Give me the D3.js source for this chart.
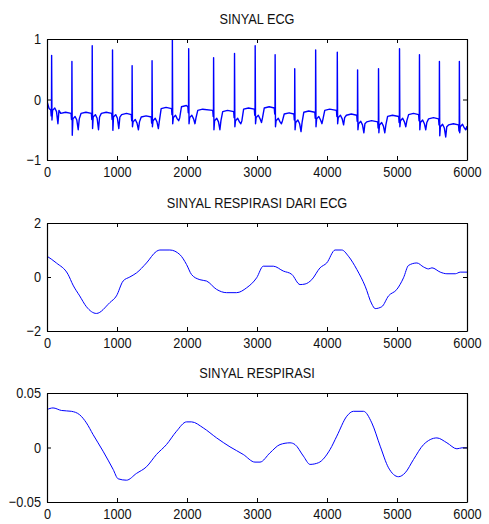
<!DOCTYPE html>
<html>
<head>
<meta charset="utf-8">
<script src="https://cdn.jsdelivr.net/npm/d3@7"></script>
<style>
  body { margin: 0; background: #fff; }
  text { font-family: "Liberation Sans", Arial, sans-serif; fill: #111; }
</style>
</head>
<body>
<script>
/***********************************************************************************/
// Data

var titles = ['SINYAL ECG', 'SINYAL RESPIRASI DARI ECG', 'SINYAL RESPIRASI'];
var xTicks = [0, 1000, 2000, 3000, 4000, 5000, 6000];
var yTicks1 = [-1, 0, 1];
var yTicks2 = [-2, 0, 2];
var yTicks3 = [-0.05, 0, 0.05];

// ECG: one entry per beat
var rPos  = [66, 356, 646, 936, 1216, 1501, 1791, 2024, 2380, 2679, 2974, 3259, 3539, 3838, 4147, 4437, 4736, 5036, 5321, 5606, 5891];
var rAmp  = [0.73, 0.63, 0.89, 0.82, 0.56, 0.64, 1.0, 0.84, 0.69, 0.76, 0.89, 0.74, 0.51, 0.82, 0.78, 0.49, 0.51, 0.84, 0.74, 0.63, 0.63];
var sMin  = [-0.34, -0.59, -0.48, -0.51, -0.45, -0.45, -0.4, -0.4, -0.5, -0.45, -0.4, -0.45, -0.5, -0.45, -0.4, -0.5, -0.55, -0.45, -0.5, -0.6, -0.55];
var stLvl = [-0.18, -0.32, -0.29, -0.29, -0.37, -0.35, -0.3, -0.3, -0.35, -0.35, -0.3, -0.35, -0.38, -0.32, -0.3, -0.4, -0.42, -0.35, -0.38, -0.45, -0.45];
var tMin  = [-0.4, -0.5, -0.5, -0.48, -0.5, -0.48, -0.35, -0.4, -0.5, -0.4, -0.38, -0.4, -0.53, -0.4, -0.42, -0.55, -0.55, -0.45, -0.5, -0.62, -0.5];
var plat  = [-0.23, -0.23, -0.23, -0.25, -0.29, -0.15, -0.12, -0.18, -0.2, -0.16, -0.14, -0.24, -0.21, -0.18, -0.26, -0.37, -0.28, -0.25, -0.32, -0.42, -0.48];
var ecgStart = [[0, -0.03], [30, -0.15], [50, -0.17]];
var ecgEnd = [6000, -0.5];

// respiration derived from ECG
var edrX = [0, 134, 300, 372, 467, 563, 706, 897, 992, 1087, 1183, 1278, 1421, 1564, 1612, 1755, 1898, 1994, 2065, 2184, 2280, 2423, 2566, 2709, 2852, 2995, 3090, 3233, 3376, 3496, 3615, 3687, 3782, 3901, 3996, 4116, 4211, 4306, 4426, 4545, 4640, 4688, 4783, 4879, 4998, 5093, 5165, 5284, 5380, 5451, 5499, 5618, 5713, 5833, 5904, 6000];
var edrY = [0.77, 0.52, 0.1, -0.3, -0.7, -1.1, -1.35, -0.95, -0.7, -0.15, 0.0, 0.15, 0.52, 0.95, 1.0, 1.0, 0.83, 0.46, 0.09, -0.1, -0.15, -0.46, -0.58, -0.58, -0.4, -0.03, 0.4, 0.4, 0.22, 0.1, -0.28, -0.26, -0.1, 0.34, 0.52, 1.0, 1.0, 0.77, 0.28, -0.34, -1.0, -1.17, -1.1, -0.7, -0.46, -0.03, 0.43, 0.52, 0.37, 0.3, 0.34, 0.18, 0.12, 0.12, 0.18, 0.18];

// respiration
var respX = [0, 86, 205, 348, 467, 563, 658, 801, 944, 1016, 1135, 1278, 1421, 1564, 1707, 1850, 1994, 2065, 2232, 2423, 2614, 2804, 2971, 3043, 3186, 3329, 3472, 3543, 3663, 3758, 3877, 4044, 4140, 4283, 4378, 4521, 4640, 4760, 4879, 5022, 5117, 5236, 5380, 5570, 5713, 5856, 5928, 6000];
var respY = [0.0348, 0.0363, 0.034, 0.0332, 0.030, 0.0226, 0.0119, -0.0034, -0.020, -0.0287, -0.030, -0.0238, -0.0177, -0.0064, 0.0027, 0.0149, 0.0235, 0.0235, 0.018, 0.0088, 0.0006, -0.0064, -0.0134, -0.0134, -0.0049, 0.0027, 0.0043, 0.0027, -0.0079, -0.0155, -0.014, -0.0018, 0.0104, 0.0287, 0.0332, 0.0332, 0.0226, 0.0012, -0.0186, -0.0268, -0.0232, -0.011, 0.0027, 0.0088, 0.0043, -0.0012, -0.0003, -0.0003];

/***********************************************************************************/
// Build ECG points from the beat table

var ecg = ecgStart.slice();
var prev = ecgStart[ecgStart.length - 1][1];
rPos.forEach(function(r, i){
  ecg.push([r - 12, prev], [r - 6, prev - 0.1], [r - 2, prev], [r, rAmp[i]], [r + 5, sMin[i]],
           [r + 14, stLvl[i]], [r + 45, stLvl[i] + 0.04], [r + 70, stLvl[i] - 0.02], [r + 90, tMin[i]],
           [r + 105, stLvl[i]], [r + 130, plat[i]], [r + 200, plat[i] + 0.02]);
  prev = plat[i];
});
ecg = ecg.filter(function(p){ return p[0] <= 6000; });
ecg.push(ecgEnd);

/***********************************************************************************/
// Layout

var W = 489, H = 524, left = 47, right = 467, squeeze = 0.85;
var panels = [
  { top: 39,  bottom: 160, title: titles[0], ticks: yTicks1, dom: [-1, 1],       fmt: d3.format('d'),
    data: ecg, curve: d3.curveLinear, sw: 1.4 },
  { top: 223, bottom: 331, title: titles[1], ticks: yTicks2, dom: [-2, 2],       fmt: d3.format('d'),
    data: edrX.map(function(x, i){ return [x, edrY[i]]; }), curve: d3.curveMonotoneX, sw: 1 },
  { top: 393, bottom: 502, title: titles[2], ticks: yTicks3, dom: [-0.05, 0.05], fmt: function(v){ return v === 0 ? '0' : d3.format('.2f')(v); },
    data: respX.map(function(x, i){ return [x, respY[i]]; }), curve: d3.curveMonotoneX, sw: 1 }
];

var svg = d3.select('body').append('svg').attr('width', W).attr('height', H);
var x = d3.scaleLinear().domain([0, 6000]).range([left, right]);

// narrow the tick text horizontally around its anchor
function narrow(sel){
  sel.selectAll('.tick text').each(function(){
    var t = d3.select(this), tx = +t.attr('x') || 0;
    t.attr('x', 0).attr('transform', 'translate(' + tx + ',0) scale(' + squeeze + ',1)');
  });
}

panels.forEach(function(p, k){
  var y = d3.scaleLinear().domain(p.dom).range([p.bottom, p.top]);
  var g = svg.append('g');

  g.append('clipPath').attr('id', 'clip' + k)
    .append('rect').attr('x', left).attr('y', p.top).attr('width', right - left).attr('height', p.bottom - p.top);

  g.append('path')
    .datum(p.data)
    .attr('clip-path', 'url(#clip' + k + ')')
    .attr('fill', 'none')
    .attr('stroke', '#0000ff')
    .attr('stroke-width', p.sw)
    .attr('stroke-linejoin', 'round')
    .attr('d', d3.line().x(function(d){ return x(d[0]); }).y(function(d){ return y(d[1]); }).curve(p.curve));

  // box axes, ticks pointing inward
  var ax = function(a){ return a.tickSizeOuter(0).tickPadding(6); };
  g.append('g').attr('transform', 'translate(0,' + p.bottom + ')')
    .call(ax(d3.axisBottom(x).tickValues(xTicks).tickFormat(d3.format('d')).tickSizeInner(-4))).call(narrow);
  g.append('g').attr('transform', 'translate(0,' + p.top + ')')
    .call(ax(d3.axisTop(x).tickValues(xTicks).tickFormat('').tickSizeInner(-4)));
  g.append('g').attr('transform', 'translate(' + left + ',0)')
    .call(ax(d3.axisLeft(y).tickValues(p.ticks).tickFormat(p.fmt).tickSizeInner(-4))).call(narrow);
  g.append('g').attr('transform', 'translate(' + right + ',0)')
    .call(ax(d3.axisRight(y).tickValues(p.ticks).tickFormat('').tickSizeInner(-4)));

  g.selectAll('.domain').attr('stroke', '#000').attr('stroke-width', 1.2);
  g.selectAll('.tick line').attr('stroke', '#000');
  g.selectAll('.tick text').attr('font-size', 15).attr('font-family', null).attr('fill', '#111');

  g.append('text')
    .attr('transform', 'translate(' + ((left + right) / 2) + ',' + (p.top - 15) + ') scale(' + squeeze + ',1)')
    .attr('text-anchor', 'middle')
    .attr('font-size', 15)
    .text(p.title);
});
</script>
</body>
</html>
